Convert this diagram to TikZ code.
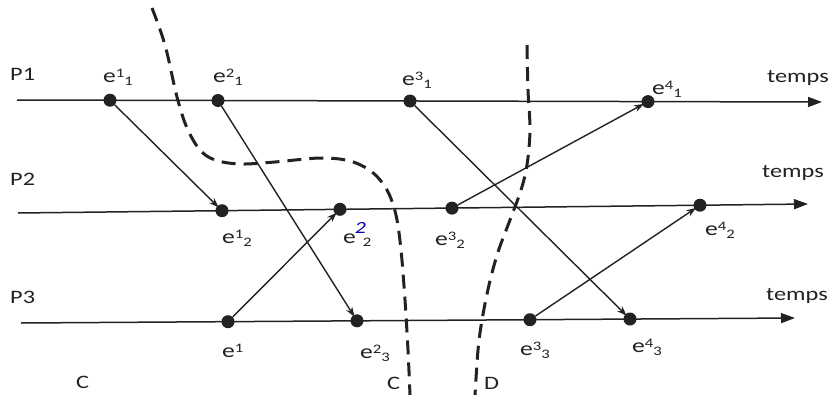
\documentclass[tikz,border=0pt]{standalone}
\usepackage{fontspec}
\setmainfont{Carlito}[FakeStretch=1.28]
\usetikzlibrary{arrows.meta}
\definecolor{ink}{HTML}{222222}
\newcommand\supx[1]{\raisebox{5pt}{\fontsize{13}{13}\selectfont #1}}
\newcommand\subx[1]{\raisebox{-3pt}{\fontsize{13}{13}\selectfont #1}}
\newcommand\evlab[2]{e\supx{#1}\subx{#2}}
\begin{document}
\begin{tikzpicture}[x=1pt,y=-1pt,
  lbl/.style={anchor=base west, inner sep=0pt, text=ink, font=\fontsize{19}{23}\selectfont},
  elbl/.style={anchor=base west, inner sep=0pt, text=ink, font=\fontsize{20}{24}\selectfont},
  evt/.style={circle, fill=ink, minimum size=13pt, inner sep=0pt},
  timeline/.style={draw=ink, line width=1.5pt, -{Triangle[length=14pt,width=10pt]}},
  msg/.style={draw=ink, line width=1.4pt, -{Stealth[length=10pt,width=7pt]}, shorten >=-2pt},
  cut/.style={draw=ink, line width=3pt, dash pattern=on 14pt off 8pt}]
\useasboundingbox (0,0) rectangle (830,394);
\fill[white] (0,0) rectangle (830,394);

% time lines
\coordinate (p1s) at (17,100);  \coordinate (p1e) at (822,102);
\coordinate (p2s) at (18,213);  \coordinate (p2e) at (808,204);
\coordinate (p3s) at (21,323);  \coordinate (p3e) at (795,318);
\draw[timeline] (p1s) -- (p1e);
\draw[timeline] (p2s) -- (p2e);
\draw[timeline] (p3s) -- (p3e);

% cuts
\draw[cut] plot[smooth, tension=0.55] coordinates {(152,8) (165,45) (177,97) (187,128) (200,150) (215,160) (240,164) (275,162) (320,158) (350,161) (372,172) (387,190) (396,215) (401,250) (405,300) (408,350) (410,395)};
\draw[cut] plot[smooth, tension=0.55] coordinates {(527,45) (528,90) (530,130) (527,165) (521,190) (510,220) (498,252) (489,285) (482,320) (478,350) (475,395)};

% events
\node[evt] (e11) at (110,100.2) {};
\node[evt] (e21) at (218,100.5) {};
\node[evt] (e31) at (410,101) {};
\node[evt] (e41) at (648,101.6) {};
\node[evt] (e12) at (222,210.7) {};
\node[evt] (e22) at (340,209.3) {};
\node[evt] (e32) at (452,208.1) {};
\node[evt] (e42) at (700,205.2) {};
\node[evt] (e13) at (228,321.7) {};
\node[evt] (e23) at (357,320.8) {};
\node[evt] (e33) at (530,319.7) {};
\node[evt] (e43) at (630,319) {};

% messages
\draw[msg] (e11) -- (e12);
\draw[msg] (e21) -- (e23);
\draw[msg] (e13) -- (e22);
\draw[msg] (e31) -- (e43);
\draw[msg] (e32) -- (e41);
\draw[msg] (e33) -- (e42);

% process labels
\node[lbl] (lp1) at (10,80) {P1};
\node[lbl] (lp2) at (10,185) {P2};
\node[lbl] (lp3) at (10,303) {P3};
\node[lbl] (t1) at (767,82) {temps};
\node[lbl] (t2) at (762,177) {temps};
\node[lbl] (t3) at (766,300) {temps};
\node[lbl] (cl) at (76,388) {C};
\node[lbl] (cr) at (387,389) {C};
\node[lbl] (dl) at (484,389) {D};

% event labels
\node[elbl] (l11) at (103,82) {\evlab{1}{1}};
\node[elbl] (l21) at (213,82) {\evlab{2}{1}};
\node[elbl] (l31) at (402,85) {\evlab{3}{1}};
\node[elbl] (l41) at (652,94) {\evlab{4}{1}};
\node[elbl] (l12) at (222,243) {\evlab{1}{2}};
\node[elbl] (l22) at (343,243) {e\kern-1pt\raisebox{10pt}{\fontsize{17}{17}\selectfont\itshape\textcolor{blue!70!black}{2}}\kern-3pt\subx{2}};
\node[elbl] (l32) at (435,245) {\evlab{3}{2}};
\node[elbl] (l42) at (705,235) {\evlab{4}{2}};
\node[elbl] (l13) at (222,357) {e\supx{1}};
\node[elbl] (l23) at (360,358) {\evlab{2}{3}};
\node[elbl] (l33) at (520,355) {\evlab{3}{3}};
\node[elbl] (l43) at (632,352) {\evlab{4}{3}};
\end{tikzpicture}
\end{document}
